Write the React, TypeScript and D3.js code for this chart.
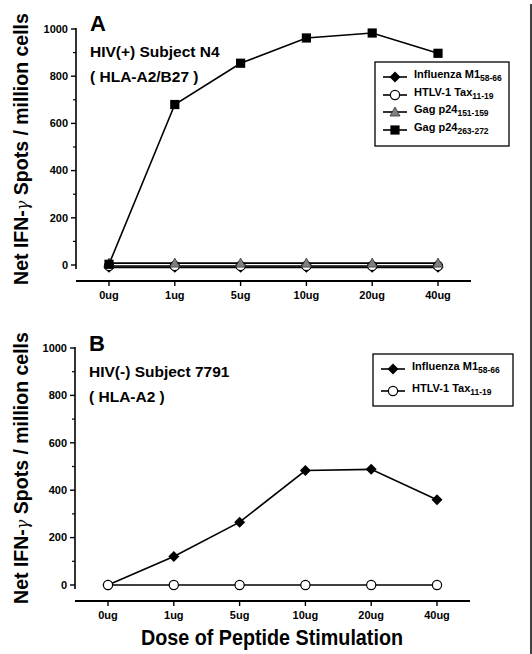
import React from "react";
import * as d3 from "d3";

const doses = ["0ug", "1ug", "5ug", "10ug", "20ug", "40ug"];
const yTicks = [0, 200, 400, 600, 800, 1000];
const yMinor = [100, 300, 500, 700, 900];

// Panel A – HIV(+) Subject N4
const aInfluenza = [-10, -10, -10, -10, -10, -10];
const aHtlv = [-4, -4, -4, -4, -4, -4];
const aGag151 = [8, 8, 8, 8, 8, 8];
const aGag263 = [3, 680, 855, 962, 983, 897];

// Panel B – HIV(-) Subject 7791
const bInfluenza = [0, 120, 265, 483, 488, 360];
const bHtlv = [0, 0, 0, 0, 0, 0];

type Marker = "diamond" | "circle" | "triangle" | "square";
interface Series { name: string; sub: string; values: number[]; marker: Marker; }

const seriesA: Series[] = [
  { name: "Influenza M1", sub: "58-66", values: aInfluenza, marker: "diamond" },
  { name: "HTLV-1 Tax", sub: "11-19", values: aHtlv, marker: "circle" },
  { name: "Gag p24", sub: "151-159", values: aGag151, marker: "triangle" },
  { name: "Gag p24", sub: "263-272", values: aGag263, marker: "square" },
];
const seriesB: Series[] = [
  { name: "Influenza M1", sub: "58-66", values: bInfluenza, marker: "diamond" },
  { name: "HTLV-1 Tax", sub: "11-19", values: bHtlv, marker: "circle" },
];

const FONT = "'Liberation Sans', Arial, sans-serif";

function MarkerShape({ type, x, y }: { type: Marker; x: number; y: number }) {
  if (type === "diamond") {
    const s = 5.5;
    return <path d={`M${x},${y - s}L${x + s},${y}L${x},${y + s}L${x - s},${y}Z`} fill="#000" />;
  }
  if (type === "circle") {
    return <circle cx={x} cy={y} r={4.6} fill="#fff" stroke="#000" strokeWidth={1.2} />;
  }
  if (type === "triangle") {
    const s = 5;
    return <path d={`M${x},${y - s}L${x + s},${y + s * 0.8}L${x - s},${y + s * 0.8}Z`} fill="#808080" stroke="#333" strokeWidth={0.8} />;
  }
  return <rect x={x - 4.6} y={y - 4.6} width={9.2} height={9.2} fill="#000" />;
}

interface PanelProps {
  top: number; axisX: number; y0: number; y1000: number; xAxisY: number;
  xStart: number; xEnd: number; axisEnd: number;
  letter: string; line1: string; line2: string; series: Series[];
  legend: { x: number; y: number; w: number; h: number; rowY: number[] };
  labelCenterY: number;
}

function Panel(p: PanelProps) {
  const x = d3.scalePoint<string>().domain(doses).range([p.xStart, p.xEnd]);
  const y = d3.scaleLinear().domain([0, 1000]).range([p.y0, p.y1000]);
  const line = d3.line<number>().x((_, i) => x(doses[i])!).y((v) => y(v));
  return (
    <g>
      {/* y axis */}
      <line x1={p.axisX} x2={p.axisX} y1={y(1000) - 1} y2={y(-17)} stroke="#000" strokeWidth={1.6} />
      {yTicks.map((t) => (
        <g key={t}>
          <line x1={p.axisX - 5} x2={p.axisX} y1={y(t)} y2={y(t)} stroke="#000" strokeWidth={1.4} />
          <text x={p.axisX - 8} y={y(t)} dy="0.35em" textAnchor="end" fontFamily={FONT} fontWeight="bold" fontSize={11}>{t}</text>
        </g>
      ))}
      {yMinor.map((t) => (
        <line key={t} x1={p.axisX - 3} x2={p.axisX} y1={y(t)} y2={y(t)} stroke="#000" strokeWidth={1.2} />
      ))}
      {/* x axis */}
      <line x1={p.axisX} x2={p.axisEnd} y1={p.xAxisY} y2={p.xAxisY} stroke="#000" strokeWidth={1.8} />
      {doses.map((d) => (
        <g key={d}>
          <line x1={x(d)} x2={x(d)} y1={p.xAxisY} y2={p.xAxisY + 5} stroke="#000" strokeWidth={1.4} />
          <text x={x(d)} y={p.xAxisY + 18} textAnchor="middle" fontFamily={FONT} fontWeight="bold" fontSize={11}>{d}</text>
        </g>
      ))}
      {/* y label */}
      <text transform={`translate(28,${p.labelCenterY}) rotate(-90)`} textAnchor="middle" fontFamily={FONT} fontWeight="bold" fontSize={19.5}>
        Net IFN-<tspan fontStyle="italic" fontWeight="normal" fontFamily="'DejaVu Serif', serif" fontSize={16}>γ</tspan> Spots / million cells
      </text>
      {/* titles */}
      <text x={p.axisX + 14} y={p.top + 31} fontFamily={FONT} fontWeight="bold" fontSize={22}>{p.letter}</text>
      <text x={p.axisX + 14} y={p.top + 57} fontFamily={FONT} fontWeight="bold" fontSize={15.5}>{p.line1}</text>
      <text x={p.axisX + 14} y={p.top + 82} fontFamily={FONT} fontWeight="bold" fontSize={15.5}>{p.line2}</text>
      {/* series */}
      {p.series.map((s, si) => (
        <g key={si}>
          <path d={line(s.values)!} fill="none" stroke="#000" strokeWidth={1.6} />
          {s.values.map((v, i) => <MarkerShape key={i} type={s.marker} x={x(doses[i])!} y={y(v)} />)}
        </g>
      ))}
      {/* legend */}
      <rect x={p.legend.x} y={p.legend.y} width={p.legend.w} height={p.legend.h} fill="#fff" stroke="#000" strokeWidth={1.3} />
      {p.series.map((s, si) => {
        const ry = p.legend.rowY[si];
        const lx = p.legend.x + 8;
        return (
          <g key={si}>
            <line x1={lx} x2={lx + 24} y1={ry} y2={ry} stroke="#000" strokeWidth={1.6} />
            <MarkerShape type={s.marker} x={lx + 12} y={ry} />
            <text x={lx + 31} y={ry + 1} fontFamily={FONT} fontWeight="bold" fontSize={11}>
              {s.name}<tspan fontSize={8.5} dy={3}>{s.sub}</tspan>
            </text>
          </g>
        );
      })}
    </g>
  );
}

export default function App() {
  return (
    <svg width={532} height={654} style={{ position: "absolute", left: 0, top: 0, background: "#fff" }}>
      <rect width={532} height={654} fill="#fff" />
      <Panel
        top={0} axisX={76} y0={265} y1000={29} xAxisY={281} xStart={109} xEnd={438} axisEnd={471}
        letter="A" line1="HIV(+) Subject N4" line2="( HLA-A2/B27 )" series={seriesA}
        legend={{ x: 375, y: 62, w: 134, h: 84, rowY: [77, 95, 112, 130] }}
        labelCenterY={149}
      />
      <Panel
        top={320} axisX={75} y0={585} y1000={348} xAxisY={601} xStart={108} xEnd={437} axisEnd={470}
        letter="B" line1="HIV(-)  Subject 7791" line2="( HLA-A2 )" series={seriesB}
        legend={{ x: 373, y: 354, w: 140, h: 52, rowY: [369, 391] }}
        labelCenterY={468}
      />
      <text x={272} y={645} textAnchor="middle" fontFamily={FONT} fontWeight="bold" fontSize={21.5}
        textLength={262} lengthAdjust="spacingAndGlyphs">Dose of Peptide Stimulation</text>
      <line x1={531} x2={531} y1={4} y2={654} stroke="#000" strokeWidth={1.5} />
    </svg>
  );
}
